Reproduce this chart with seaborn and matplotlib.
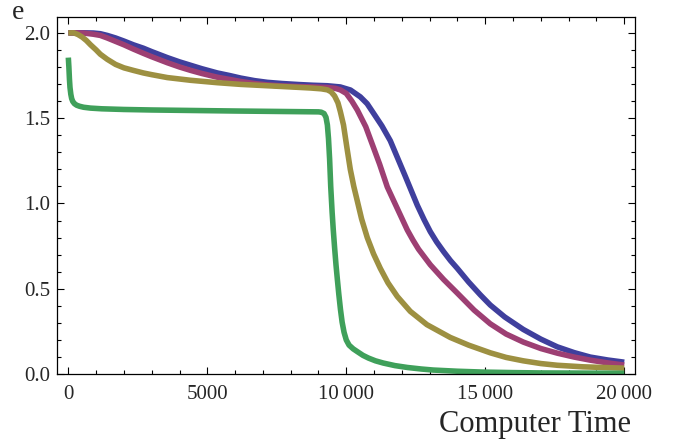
import numpy as np
import pandas as pd
import matplotlib
matplotlib.use("Agg")
import matplotlib.pyplot as plt
import seaborn as sns
from matplotlib.ticker import MultipleLocator, FixedLocator, FixedFormatter

# values
blue_t = [0, 300, 600, 900, 1150, 1400, 1700, 2000, 2340, 2700, 3000, 3560, 4000, 4400, 4800, 5360,
          5800, 6200, 6700, 7160, 7700, 8300, 8800, 9320, 9784, 10150, 10504, 10750, 10971, 11280,
          11583, 11850, 12122, 12554, 12800, 13022, 13250, 13500, 13750, 13993, 14400, 14820, 15180,
          15700, 16367, 17000, 17590, 18200, 18777, 19400, 20000]
blue_e = [2.0, 2.0, 2.0, 1.999, 1.995, 1.985, 1.97, 1.952, 1.93, 1.91, 1.89, 1.855, 1.83, 1.81, 1.79, 1.765,
          1.75, 1.735, 1.72, 1.71, 1.703, 1.697, 1.693, 1.69, 1.683, 1.665, 1.625, 1.585, 1.531, 1.455,
          1.368, 1.265, 1.16, 0.99, 0.905, 0.835, 0.775, 0.718, 0.665, 0.62, 0.54, 0.465, 0.405,
          0.335, 0.262, 0.205, 0.16, 0.126, 0.100, 0.083, 0.070]

magenta_t = [0, 300, 600, 900, 1150, 1400, 1700, 2000, 2340, 2700, 3000, 3560, 4000, 4400, 4800, 5360,
             5800, 6200, 6700, 7160, 7700, 8300, 8800, 9320, 9600, 9784, 10000, 10200, 10396, 10700,
             10971, 11200, 11475, 11691, 12194, 12400, 12600, 13022, 13500, 13993, 14600, 15180, 15750,
             16367, 17000, 17590, 18200, 18777, 19400, 20000]
magenta_e = [2.0, 2.0, 1.998, 1.992, 1.985, 1.97, 1.95, 1.93, 1.905, 1.88, 1.86, 1.825, 1.80, 1.78, 1.762, 1.74,
             1.727, 1.715, 1.703, 1.695, 1.689, 1.685, 1.683, 1.68, 1.675, 1.666, 1.645, 1.60, 1.548, 1.45,
             1.331, 1.23, 1.097, 1.021, 0.845, 0.785, 0.732, 0.641, 0.555, 0.475, 0.375, 0.295, 0.235,
             0.188, 0.15, 0.123, 0.10, 0.082, 0.066, 0.053]

gold_t = [0, 200, 350, 500, 650, 800, 1000, 1150, 1400, 1700, 2000, 2340, 2700, 3000, 3560, 4400, 5360,
          6200, 7160, 8000, 8700, 9100, 9320, 9450, 9580, 9700, 9784, 9900, 10020, 10144, 10270, 10396,
          10550, 10755, 10980, 11223, 11500, 11835, 12302, 12900, 13741, 14400, 15180, 15750, 16367,
          17000, 17590, 18500, 20000]
gold_e = [2.0, 2.0, 1.99, 1.975, 1.955, 1.93, 1.9, 1.875, 1.845, 1.815, 1.795, 1.78, 1.765, 1.755, 1.738, 1.722, 1.708,
          1.698, 1.69, 1.683, 1.677, 1.672, 1.666, 1.655, 1.63, 1.59, 1.54, 1.46, 1.33, 1.2, 1.1, 1.015,
          0.91, 0.80, 0.705, 0.62, 0.535, 0.455, 0.368, 0.29, 0.215, 0.17, 0.125, 0.098, 0.078,
          0.062, 0.052, 0.043, 0.035]

green_t = [0, 20, 40, 60, 90, 120, 160, 220, 300, 400, 550, 800, 1200, 2000, 3000, 6000, 9000, 9100,
           9200, 9270, 9320, 9360, 9400, 9440, 9490, 9532, 9580, 9630, 9676, 9730, 9790, 9850, 9920,
           10000, 10100, 10250, 10396, 10600, 10800, 11050, 11331, 11750, 12200, 12700, 13130, 14000,
           14928, 16000, 17000, 18500, 20000]
green_e = [1.855, 1.80, 1.73, 1.68, 1.64, 1.615, 1.598, 1.585, 1.576, 1.57, 1.564, 1.559, 1.555, 1.551, 1.548, 1.542, 1.537, 1.535,
           1.527, 1.505, 1.46, 1.38, 1.26, 1.10, 0.95, 0.845, 0.74, 0.64, 0.56, 0.47, 0.38, 0.305, 0.245,
           0.20, 0.17, 0.148, 0.132, 0.11, 0.094, 0.078, 0.065, 0.05, 0.039, 0.03, 0.024, 0.017,
           0.012, 0.009, 0.007, 0.006, 0.005]

series_names = ["blue", "magenta", "gold", "green"]
colors = {"blue": "#3f3f9d", "magenta": "#9d3f73", "gold": "#9d9041", "green": "#3fa05a"}

x_ticks = [0, 5000, 10000, 15000, 20000]
x_labels = ["0", "5000", "10\u2009000", "15\u2009000", "20\u2009000"]
y_ticks = [0.0, 0.5, 1.0, 1.5, 2.0]
y_labels = ["0.0", "0.5", "1.0", "1.5", "2.0"]

frames = []
for name, t, e in zip(series_names,
                      [blue_t, magenta_t, gold_t, green_t],
                      [blue_e, magenta_e, gold_e, green_e]):
    frames.append(pd.DataFrame({"t": t, "e": e, "run": name}))
df = pd.concat(frames, ignore_index=True)

sns.set_style("ticks")
plt.rcParams["font.family"] = ["Liberation Serif", "DejaVu Serif"]

fig = plt.figure(figsize=(6.81, 4.47), dpi=100)
ax = fig.add_axes([0.084, 0.163, 0.849, 0.799])

sns.lineplot(data=df, x="t", y="e", hue="run", palette=colors, hue_order=series_names,
             linewidth=4.0, legend=False, sort=False, estimator=None, ax=ax)
for line in ax.lines:
    line.set_solid_capstyle("butt")
    line.set_solid_joinstyle("round")

ax.set_xlim(-400, 20400)
ax.set_ylim(0, 2.093)
ax.xaxis.set_major_locator(FixedLocator(x_ticks))
ax.xaxis.set_major_formatter(FixedFormatter(x_labels))
ax.xaxis.set_minor_locator(MultipleLocator(1000))
ax.yaxis.set_major_locator(FixedLocator(y_ticks))
ax.yaxis.set_major_formatter(FixedFormatter(y_labels))
ax.yaxis.set_minor_locator(MultipleLocator(0.1))
ax.tick_params(which="both", direction="in", top=True, right=True, color="black", width=0.8)
ax.tick_params(which="major", length=5.3, labelsize=15)
ax.tick_params(axis="x", which="major", pad=8)
ax.tick_params(axis="y", which="major", pad=5)
ax.tick_params(which="minor", length=3)
for s in ax.spines.values():
    s.set_color("black")
    s.set_linewidth(0.9)
ax.set_xlabel("")
ax.set_ylabel("")

fig.text(0.027, 0.958, "e", fontsize=20, ha="center", va="baseline")
fig.text(0.926, 0.034, "Computer Time", fontsize=22, ha="right", va="baseline")

fig.savefig("out.png", dpi=100)
